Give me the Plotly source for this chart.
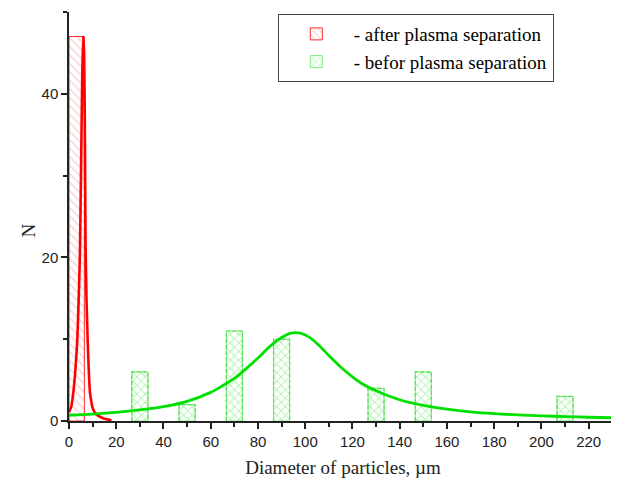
import plotly.graph_objects as go

# --- data ---
after_x = [3.25]
after_n = [47]
after_w = [6.5]

before_x = [30, 50, 70, 90, 130, 150, 210]
before_n = [6, 2, 11, 10, 4, 6, 3]
before_w = 6.8

after_fit_x = [0, 1, 1.8, 2.5, 3, 3.5, 4, 4.5, 4.7, 5.2, 5.6, 6, 6.4, 6.8, 7.0, 7.4, 7.9, 8.4, 8.9, 9.5, 10, 11, 12, 14, 16, 18]
after_fit_y = [1.1, 1.8, 3.4, 5.5, 7.5, 9.9, 14, 19, 22, 33, 42, 47, 45, 32, 22, 15, 9.9, 6, 3.4, 2.3, 1.6, 1.0, 0.7, 0.4, 0.2, 0.1]

before_fit_x = [0, 10, 20, 30, 40, 50, 60, 65, 70, 75, 80, 85, 90, 94, 98, 102, 106, 110, 115, 120, 125, 130, 140, 150, 160, 170, 180, 190, 200, 210, 220, 232]
before_fit_y = [0.7, 0.85, 1.05, 1.35, 1.75, 2.4, 3.5, 4.3, 5.2, 6.4, 7.7, 9.1, 10.2, 10.75, 10.75, 10.2, 9.2, 8.0, 6.6, 5.4, 4.4, 3.7, 2.6, 1.9, 1.45, 1.12, 0.9, 0.75, 0.63, 0.54, 0.46, 0.38]

x_ticks = list(range(0, 221, 20))
y_ticks = [0, 20, 40]

serif = "Liberation Serif, Times New Roman, serif"
sans = "Liberation Sans, Arial, sans-serif"

fig = go.Figure()

# before bars (crosshatch)
fig.add_trace(go.Bar(
    x=before_x, y=before_n, width=before_w,
    name="- befor plasma separation",
    marker=dict(color="rgba(0,0,0,0)",
                pattern=dict(shape="x", fgcolor="#6fe86f", bgcolor="rgba(255,255,255,0)", size=6, solidity=0.3),
                line=dict(color="#7cf07c", width=1)),
))
# dashed outlines for before bars
ox, oy = [], []
for cx, h in zip(before_x, before_n):
    l, r = cx - before_w / 2, cx + before_w / 2
    ox += [l, l, r, r, None]
    oy += [0, h, h, 0, None]
fig.add_trace(go.Scatter(x=ox, y=oy, mode="lines", showlegend=False, hoverinfo="skip",
                         line=dict(color="#55e055", width=1.2, dash="4px,2px")))

# after bar (diagonal hatch)
fig.add_trace(go.Bar(
    x=after_x, y=after_n, width=after_w,
    name="- after plasma separation",
    marker=dict(color="rgba(0,0,0,0)",
                pattern=dict(shape="\\", fgcolor="#ff9a9a", bgcolor="rgba(255,255,255,0)", size=6, solidity=0.22),
                line=dict(color="#ff2a2a", width=1)),
))

fig.add_trace(go.Scatter(x=after_fit_x, y=after_fit_y, mode="lines", showlegend=False,
                         line=dict(color="#ff0000", width=2.6, shape="spline", smoothing=0.6)))
fig.add_trace(go.Scatter(x=before_fit_x, y=before_fit_y, mode="lines", showlegend=False,
                         line=dict(color="#00e000", width=2.8, shape="spline", smoothing=0.8)))

# page body has an 8px margin: size and margins compensate so the plot area lands at
# x 69..617, y 12..421 in the 619x481 window
fig.update_layout(
    width=611, height=473,
    margin=dict(l=61, r=2, t=4, b=60),
    paper_bgcolor="white", plot_bgcolor="white",
    barmode="overlay",
    showlegend=True,
    legend=dict(x=0.381, y=0.995, xanchor="left", yanchor="top",
                bordercolor="#444", borderwidth=1, bgcolor="white",
                font=dict(family=serif, size=19, color="black"),
                traceorder="reversed", tracegroupgap=0, itemwidth=65),
    xaxis=dict(range=[0, 232], tickvals=x_ticks, ticks="outside", ticklen=6, tickwidth=1.5,
               tickcolor="#222", showline=True, linecolor="#222", linewidth=1.5,
               showgrid=False, zeroline=False,
               minor=dict(dtick=10, tick0=0, ticks="outside", ticklen=4, tickwidth=1.5, tickcolor="#222"),
               tickfont=dict(family=sans, size=15, color="#222"),
               title=dict(text="Diameter of particles, µm", font=dict(family=serif, size=19, color="#222"), standoff=12)),
    yaxis=dict(range=[0, 50], tickvals=y_ticks, ticks="outside", ticklen=6, tickwidth=1.5,
               tickcolor="#222", showline=True, linecolor="#222", linewidth=1.5,
               showgrid=False, zeroline=False,
               minor=dict(dtick=10, tick0=0, ticks="outside", ticklen=4, tickwidth=1.5, tickcolor="#222"),
               tickfont=dict(family=sans, size=15, color="#222")),
    annotations=[dict(text="N", xref="paper", yref="paper", x=-0.095, y=0.467,
                      textangle=-90, showarrow=False,
                      font=dict(family=serif, size=19, color="#222"))],
)

fig.write_html("out.html")
